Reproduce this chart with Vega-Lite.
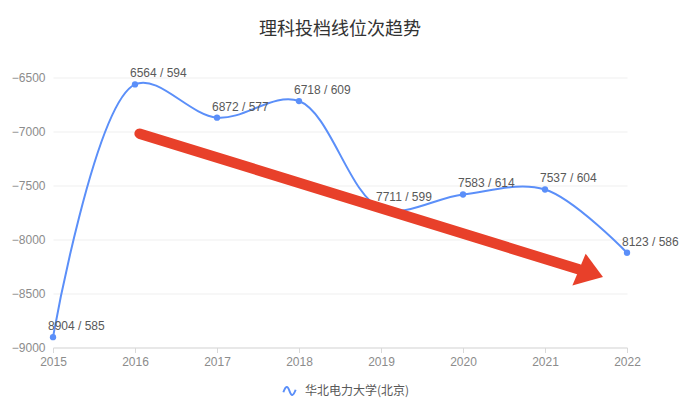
{
  "$schema": "https://vega.github.io/schema/vega-lite/v6.json",
  "width": 574,
  "height": 270,
  "autosize": {"type": "none"},
  "padding": {"left": 53, "top": 77.5, "right": 73, "bottom": 68.5},
  "background": "white",
  "title": {"text": "理科投档线位次趋势", "font": "Noto Sans CJK SC", "fontSize": 18, "fontWeight": "normal", "color": "#333333", "anchor": "middle", "offset": 28},
  "config": {"view": {"stroke": null}, "font": "Liberation Sans"},
  "datasets": {
    "rank": [
      {"year": 2015, "value": -8904, "label": "8904 / 585", "school": "华北电力大学(北京)"},
      {"year": 2016, "value": -6564, "label": "6564 / 594", "school": "华北电力大学(北京)"},
      {"year": 2017, "value": -6872, "label": "6872 / 577", "school": "华北电力大学(北京)"},
      {"year": 2018, "value": -6718, "label": "6718 / 609", "school": "华北电力大学(北京)"},
      {"year": 2019, "value": -7711, "label": "7711 / 599", "school": "华北电力大学(北京)"},
      {"year": 2020, "value": -7583, "label": "7583 / 614", "school": "华北电力大学(北京)"},
      {"year": 2021, "value": -7537, "label": "7537 / 604", "school": "华北电力大学(北京)"},
      {"year": 2022, "value": -8123, "label": "8123 / 586", "school": "华北电力大学(北京)"}
    ],
    "shaft": [{"x": 2016.057, "y": -7020, "x2": 2021.41, "y2": -8276}],
    "head": [
      {"x": 2021.334, "y": -8425, "y2": -8425},
      {"x": 2021.496, "y": -8131, "y2": -8392},
      {"x": 2021.707, "y": -8348, "y2": -8348}
    ]
  },
  "layer": [
    {
      "data": {"name": "rank"},
      "mark": {"type": "line", "interpolate": "catmull-rom", "strokeWidth": 2},
      "encoding": {
        "x": {"field": "year", "type": "quantitative", "scale": {"domain": [2015, 2022], "nice": false, "zero": false},
          "axis": {"title": null, "values": [2015, 2016, 2017, 2018, 2019, 2020, 2021, 2022], "format": "d", "grid": false, "labelFlush": false, "labelOverlap": false, "domainColor": "#D9D9D9", "tickColor": "#D9D9D9", "tickSize": 5, "labelPadding": 4, "labelFontSize": 12, "labelColor": "#8C8C8C", "labelFont": "Liberation Sans"}},
        "y": {"field": "value", "type": "quantitative", "scale": {"domain": [-9000, -6500], "nice": false, "zero": false},
          "axis": {"title": null, "values": [-9000, -8500, -8000, -7500, -7000, -6500], "format": "d", "labelFlush": false, "labelOverlap": false, "domain": false, "ticks": false, "gridColor": "#EFEFEF", "labelPadding": 8, "labelFontSize": 12, "labelColor": "#8C8C8C", "labelFont": "Liberation Sans"}},
        "color": {"field": "school", "type": "nominal", "scale": {"range": ["#5B8FF9"]},
          "legend": {"title": null, "orient": "none", "legendX": 229, "legendY": 306, "symbolType": "M-1,0.2C-0.6,-0.9,-0.3,-0.9,0,0C0.3,0.9,0.6,0.9,1,-0.2", "symbolStrokeWidth": 2, "symbolFillColor": "transparent", "symbolSize": 150, "labelFont": "Noto Sans CJK SC", "labelFontSize": 12, "labelColor": "#595959", "labelOffset": 8}}
      }
    },
    {
      "data": {"name": "rank"},
      "mark": {"type": "point", "filled": true, "size": 40, "opacity": 1, "color": "#5B8FF9"},
      "encoding": {
        "x": {"field": "year", "type": "quantitative"},
        "y": {"field": "value", "type": "quantitative"}
      }
    },
    {
      "data": {"name": "rank"},
      "mark": {"type": "text", "align": "left", "baseline": "alphabetic", "dx": -5, "dy": -7, "fontSize": 12, "color": "#595959", "font": "Liberation Sans"},
      "encoding": {
        "x": {"field": "year", "type": "quantitative"},
        "y": {"field": "value", "type": "quantitative"},
        "text": {"field": "label"}
      }
    },
    {
      "data": {"name": "shaft"},
      "mark": {"type": "rule", "color": "#E8402A", "strokeWidth": 10.5, "strokeCap": "round"},
      "encoding": {
        "x": {"field": "x", "type": "quantitative"},
        "y": {"field": "y", "type": "quantitative"},
        "x2": {"field": "x2"},
        "y2": {"field": "y2"}
      }
    },
    {
      "data": {"name": "head"},
      "mark": {"type": "area", "color": "#E8402A", "opacity": 1},
      "encoding": {
        "x": {"field": "x", "type": "quantitative"},
        "y": {"field": "y", "type": "quantitative"},
        "y2": {"field": "y2"}
      }
    }
  ]
}
